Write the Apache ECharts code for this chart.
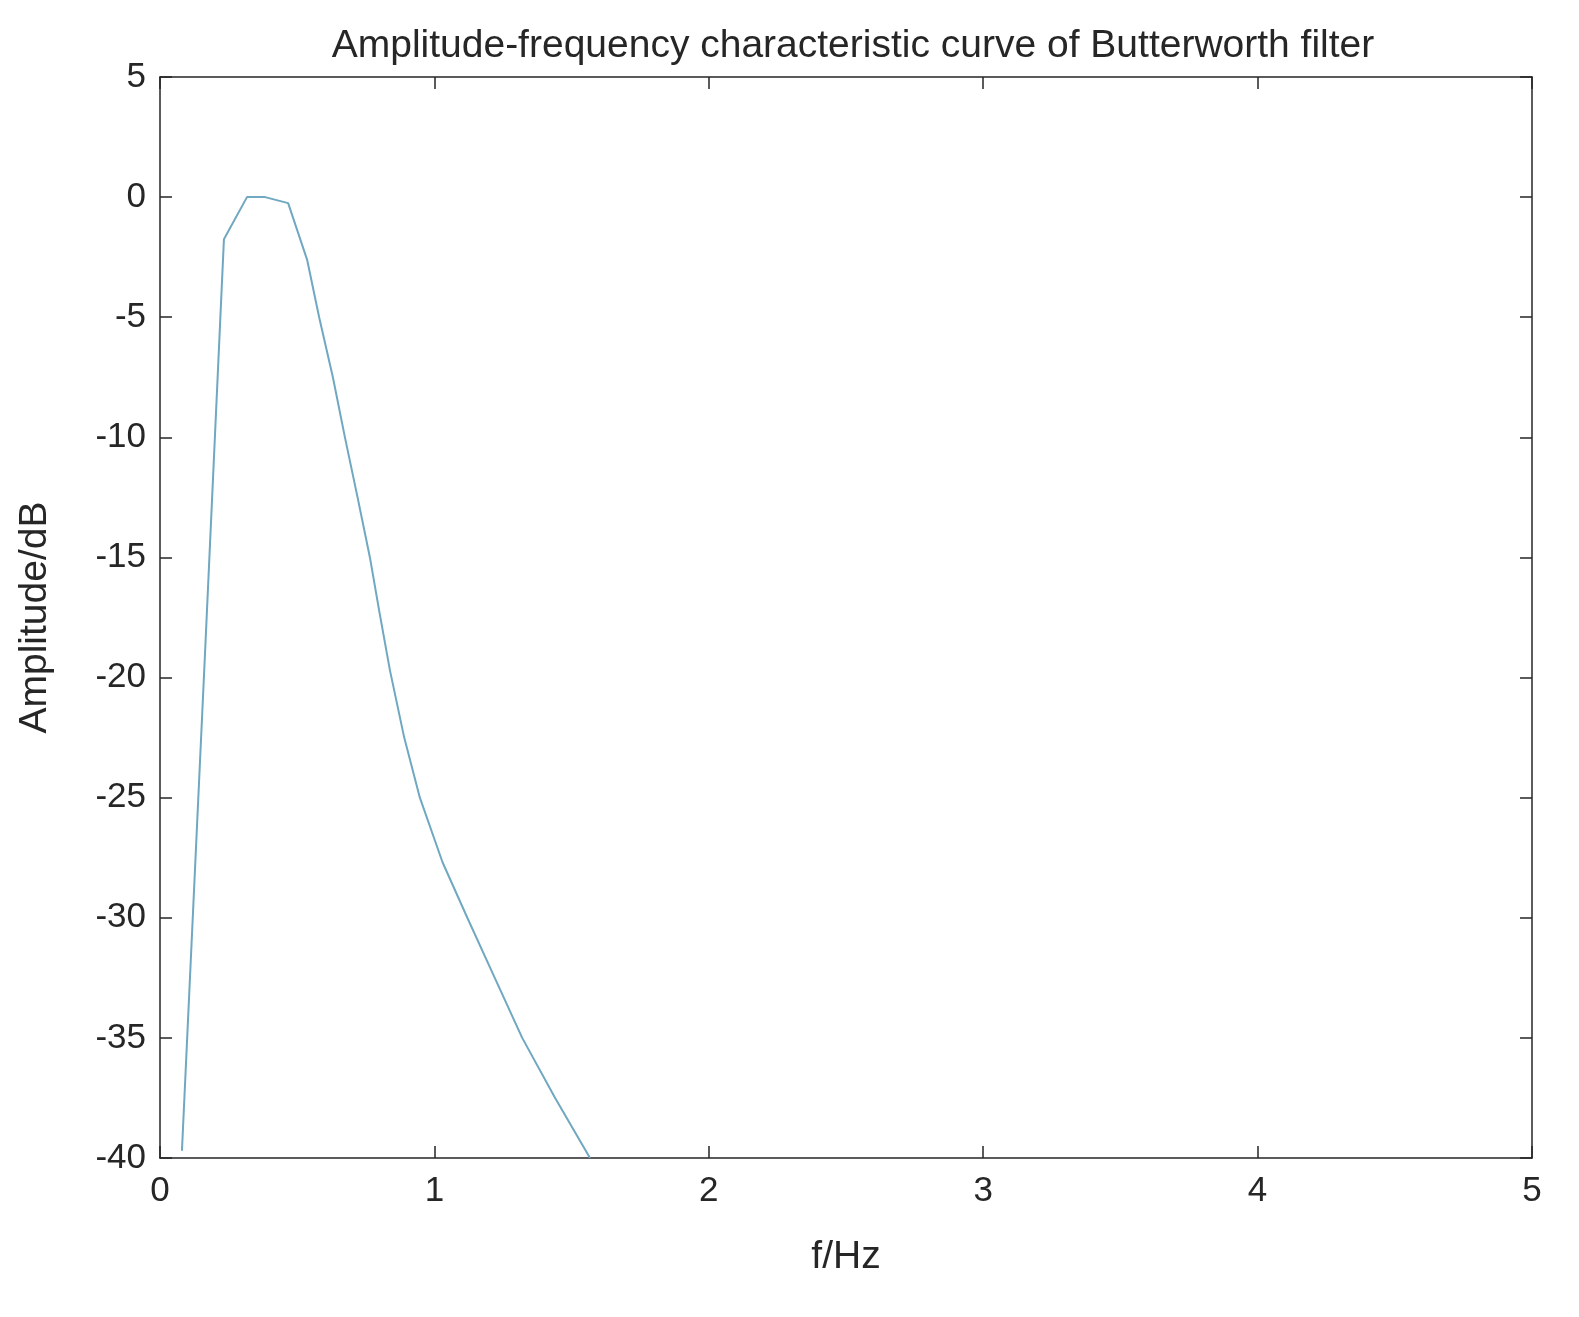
<!DOCTYPE html>
<html><head><meta charset="utf-8">
<script src="https://cdn.jsdelivr.net/npm/echarts@6/dist/echarts.min.js"></script>
<style>html,body{margin:0;background:#fff}#c{width:1579px;height:1317px}</style>
</head><body><div id="c"></div>
<script>
const freq = [0.08, 0.164, 0.233, 0.317, 0.383, 0.467, 0.536, 0.58, 0.63, 0.674, 0.72, 0.765, 0.80, 0.838, 0.89, 0.947, 1.03, 1.12, 1.22, 1.32, 1.44, 1.567];
const amp  = [-39.7, -19, -1.75, 0, 0, -0.25, -2.6, -5, -7.5, -10, -12.5, -15, -17.3, -19.7, -22.5, -25, -27.7, -30, -32.5, -35, -37.5, -40];
const font = 'Liberation Sans, Arial, sans-serif';
const ax = {onZero:false,lineStyle:{color:'#262626',width:1.5}};
const tick = {inside:true,length:12,lineStyle:{color:'#262626',width:1.5}};
const chart = echarts.init(document.getElementById('c'));
chart.setOption({
  animation:false,
  title:{text:'Amplitude-frequency characteristic curve of Butterworth filter',left:848,top:22,textAlign:'center',
    textStyle:{fontFamily:font,fontSize:39,fontWeight:'normal',color:'#262626'}},
  grid:{left:160,right:47,top:77,bottom:159},
  xAxis:[{type:'value',min:0,max:5,interval:1,name:'f/Hz',nameLocation:'middle',nameGap:80,
    nameTextStyle:{fontFamily:font,fontSize:39,color:'#262626'},
    axisLine:ax,axisTick:tick,splitLine:{show:false},
    axisLabel:{fontFamily:font,fontSize:35,color:'#262626',margin:16}},
    {type:'value',position:'top',min:0,max:5,interval:1,axisLine:ax,axisTick:tick,axisLabel:{show:false},splitLine:{show:false}}],
  yAxis:[{type:'value',min:-40,max:5,interval:5,name:'Amplitude/dB',nameLocation:'middle',nameGap:105,
    nameTextStyle:{fontFamily:font,fontSize:39,color:'#262626'},
    axisLine:ax,axisTick:tick,splitLine:{show:false},
    axisLabel:{fontFamily:font,fontSize:35,color:'#262626',margin:14}},
    {type:'value',position:'right',min:-40,max:5,interval:5,axisLine:ax,axisTick:tick,axisLabel:{show:false},splitLine:{show:false}}],
  series:[{type:'line',data:freq.map((f,i)=>[f,amp[i]]),showSymbol:false,smooth:false,
    lineStyle:{color:'#6fa8c0',width:2}}]
});
</script></body></html>
